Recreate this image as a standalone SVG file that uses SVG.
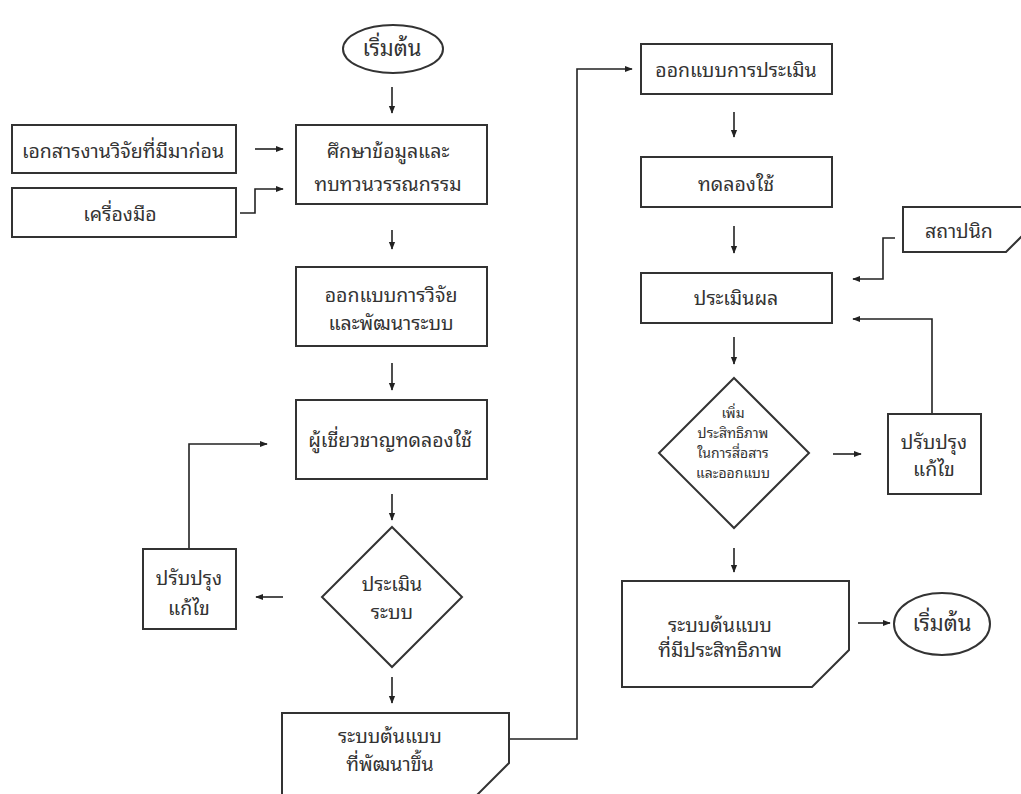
<svg xmlns="http://www.w3.org/2000/svg" width="1021" height="794" viewBox="0 0 1021 794">
<defs>
<marker id="ah" viewBox="0 0 10 10" refX="9" refY="5" markerWidth="8" markerHeight="8" markerUnits="userSpaceOnUse" orient="auto">
<path d="M0,1 L10,5 L0,9 Z" fill="#222"/>
</marker>
<style>
.n{fill:#fff;stroke:#333;stroke-width:2}
.t{font-family:"Noto Sans Thai Looped","Noto Sans Thai","Noto Sans","DejaVu Sans",sans-serif;font-size:19.5px;fill:#333;text-anchor:middle}
.s{font-size:14px}
.big{font-size:22px}
.c{fill:none;stroke:#222;stroke-width:1.6}
.a{marker-end:url(#ah)}
</style>
</defs>
<rect width="1021" height="794" fill="#fff"/>
<g id="connectors">
<path class="c a" d="M392,87 V113"/>
<path class="c a" d="M255,149 H283"/>
<path class="c a" d="M240,213 H255 V189 H283"/>
<path class="c a" d="M392,230 V249"/>
<path class="c a" d="M392,363 V390"/>
<path class="c a" d="M392,494 V520"/>
<path class="c a" d="M283,597 H256"/>
<path class="c a" d="M189,549 V444 H267"/>
<path class="c a" d="M392,677 V703"/>
<path class="c a" d="M509,739 H577 V69 H632"/>
<path class="c a" d="M734,112 V137"/>
<path class="c a" d="M734,226 V253"/>
<path class="c a" d="M895,238 H883 V279 H853"/>
<path class="c a" d="M734,337 V364"/>
<path class="c a" d="M833,454 H861"/>
<path class="c a" d="M932,414 V319 H853"/>
<path class="c a" d="M734,548 V572"/>
<path class="c a" d="M858,623 H890"/>
</g>
<g id="start">
<ellipse class="n" cx="393" cy="49" rx="50" ry="24"/>
<text class="t big" x="392" y="56">เริ่มต้น</text>
</g>
<g id="docs">
<rect class="n" x="12" y="125" width="224" height="48"/>
<text class="t" x="123" y="158">เอกสารงานวิจัยที่มีมาก่อน</text>
</g>
<g id="tools">
<rect class="n" x="12" y="188" width="224" height="49"/>
<text class="t" x="120" y="221">เครื่องมือ</text>
</g>
<g id="study">
<rect class="n" x="296" y="125" width="191" height="79"/>
<text class="t" x="388" y="158">ศึกษาข้อมูลและ</text>
<text class="t" x="388" y="191">ทบทวนวรรณกรรม</text>
</g>
<g id="design">
<rect class="n" x="296" y="267" width="191" height="79"/>
<text class="t" x="391" y="302">ออกแบบการวิจัย</text>
<text class="t" x="391" y="330">และพัฒนาระบบ</text>
</g>
<g id="expert">
<rect class="n" x="296" y="400" width="191" height="79"/>
<text class="t" x="390" y="447">ผู้เชี่ยวชาญทดลองใช้</text>
</g>
<g id="eval-system">
<polygon class="n" points="392,527 462,597 392,667 322,597"/>
<text class="t" x="392" y="591">ประเมิน</text>
<text class="t" x="392" y="619">ระบบ</text>
</g>
<g id="revise-left">
<rect class="n" x="143" y="549" width="93" height="80"/>
<text class="t" x="189" y="585">ปรับปรุง</text>
<text class="t" x="189" y="615">แก้ไข</text>
</g>
<g id="prototype">
<polygon class="n" points="282,713 509,713 509,763 474,798 282,798"/>
<text class="t" x="390" y="743">ระบบต้นแบบ</text>
<text class="t" x="390" y="771">ที่พัฒนาขึ้น</text>
</g>
<g id="design-eval">
<rect class="n" x="641" y="44" width="191" height="50"/>
<text class="t" x="736" y="77">ออกแบบการประเมิน</text>
</g>
<g id="tryout">
<rect class="n" x="641" y="157" width="191" height="50"/>
<text class="t" x="736" y="191">ทดลองใช้</text>
</g>
<g id="evaluate">
<rect class="n" x="641" y="273" width="191" height="50"/>
<text class="t" x="736" y="305">ประเมินผล</text>
</g>
<g id="architect">
<polygon class="n" points="903,207 1040,207 1040,218 1006,252 903,252"/>
<text class="t" x="959" y="238">สถาปนิก</text>
</g>
<g id="improve">
<polygon class="n" points="734,378 809,453 734,528 659,453"/>
<text class="t s" x="733" y="418">เพิ่ม</text>
<text class="t s" x="733" y="438">ประสิทธิภาพ</text>
<text class="t s" x="733" y="458">ในการสื่อสาร</text>
<text class="t s" x="733" y="478">และออกแบบ</text>
</g>
<g id="revise-right">
<rect class="n" x="888" y="414" width="93" height="80"/>
<text class="t" x="934" y="449">ปรับปรุง</text>
<text class="t" x="934" y="476">แก้ไข</text>
</g>
<g id="final">
<polygon class="n" points="622,581 849,581 849,650 812,687 622,687"/>
<text class="t" x="720" y="632">ระบบต้นแบบ</text>
<text class="t" x="720" y="657">ที่มีประสิทธิภาพ</text>
</g>
<g id="end">
<ellipse class="n" cx="942" cy="624" rx="48" ry="31"/>
<text class="t big" x="942" y="631">เริ่มต้น</text>
</g>
</svg>
